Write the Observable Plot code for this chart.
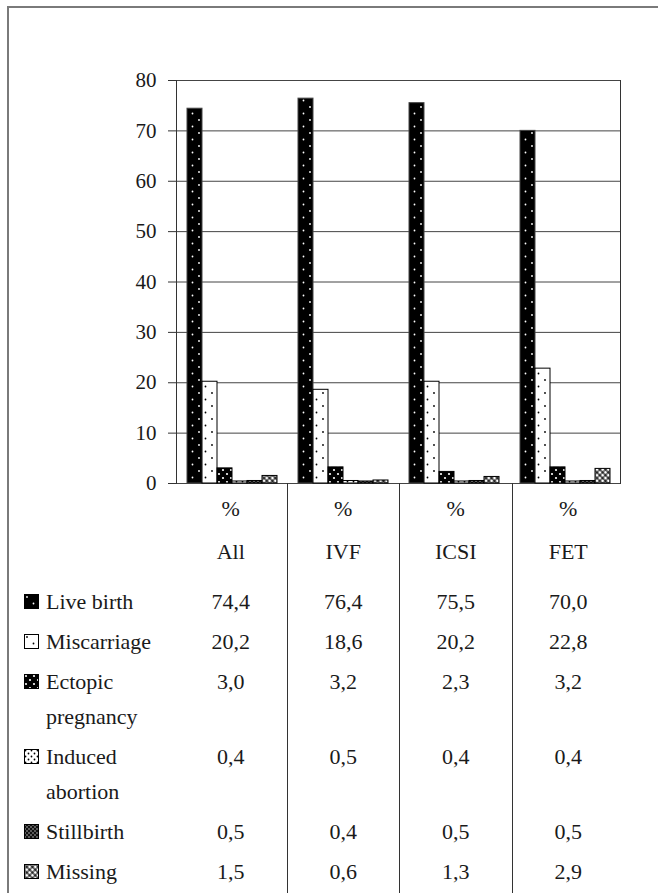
<!DOCTYPE html>
<html>
<head>
<meta charset="utf-8">
<script src="https://cdn.jsdelivr.net/npm/d3@7"></script>
<script src="https://cdn.jsdelivr.net/npm/@observablehq/plot@0.6"></script>
<style>
  html, body { margin: 0; padding: 0; background: #fff; }
  #wrap { position: relative; width: 658px; height: 893px; overflow: hidden; font-family: "Liberation Serif", "Tinos", "Times New Roman", "Times", "Noto Serif", "DejaVu Serif", "FreeSerif", "Nimbus Roman", "C059", "Georgia", serif; color: #1a1a1a; }
  #frame { position: absolute; left: 7px; top: 6px; width: 700px; height: 950px; border-top: 2px solid #7a7a7a; border-left: 2px solid #7a7a7a; }
  #chart { position: absolute; left: 0; top: 0; }
  #chart svg { overflow: visible; }
  #tbl { position: absolute; left: 0; border-collapse: collapse; font-size: 22px; }
  #tbl td { padding: 0; vertical-align: top; text-align: center; line-height: 35px; }
  #tbl td.lab { text-align: left; width: 175px; }
  #tbl td.c { width: 111.5px; }
  #tbl td.sep { border-left: 1px solid #333; }
  .labin { display: flex; align-items: flex-start; padding-left: 24px; }
  .labin svg { flex: none; margin-top: 10px; margin-right: 7px; }
</style>
</head>
<body>
<svg width="0" height="0" style="position:absolute">
  <defs>
    <pattern id="p0" patternUnits="userSpaceOnUse" width="13" height="13">
      <rect width="13" height="13" fill="#000"/>
      <circle cx="3" cy="3" r="0.9" fill="#fff"/>
      <circle cx="9.5" cy="9.5" r="0.9" fill="#fff"/>
    </pattern>
    <pattern id="p1" patternUnits="userSpaceOnUse" width="13" height="13">
      <rect width="13" height="13" fill="#fff"/>
      <circle cx="3" cy="3" r="0.9" fill="#000"/>
      <circle cx="9.5" cy="9.5" r="0.9" fill="#000"/>
    </pattern>
    <pattern id="p2" patternUnits="userSpaceOnUse" width="8" height="8">
      <rect width="8" height="8" fill="#000"/>
      <circle cx="2" cy="2" r="1.1" fill="#fff"/>
      <circle cx="6" cy="6" r="1.1" fill="#fff"/>
    </pattern>
    <pattern id="p3" patternUnits="userSpaceOnUse" width="6" height="6">
      <rect width="6" height="6" fill="#fff"/>
      <circle cx="1.5" cy="1.5" r="0.9" fill="#000"/>
      <circle cx="4.5" cy="4.5" r="0.9" fill="#000"/>
    </pattern>
    <pattern id="p4" patternUnits="userSpaceOnUse" width="4" height="4">
      <rect width="4" height="4" fill="#111"/>
      <circle cx="1" cy="1" r="0.8" fill="#bbb"/>
      <circle cx="3" cy="3" r="0.8" fill="#bbb"/>
    </pattern>
    <pattern id="p5" patternUnits="userSpaceOnUse" width="4" height="4" patternTransform="rotate(45)">
      <rect width="4" height="4" fill="#222"/>
      <circle cx="2" cy="2" r="1.6" fill="#fff"/>
    </pattern>
  </defs>
</svg>
<div id="wrap">
  <div id="frame"></div>
  <div id="chart"></div>
</div>
<script>
const categories = ["All", "IVF", "ICSI", "FET"];
const series = ["Live birth", "Miscarriage", "Ectopic pregnancy", "Induced abortion", "Stillbirth", "Missing"];
const seriesLines = [["Live birth"], ["Miscarriage"], ["Ectopic", "pregnancy"], ["Induced", "abortion"], ["Stillbirth"], ["Missing"]];
const liveBirth = [74.4, 76.4, 75.5, 70.0];
const miscarriage = [20.2, 18.6, 20.2, 22.8];
const ectopicPregnancy = [3.0, 3.2, 2.3, 3.2];
const inducedAbortion = [0.4, 0.5, 0.4, 0.4];
const stillbirth = [0.5, 0.4, 0.5, 0.5];
const missing = [1.5, 0.6, 1.3, 2.9];
const yTicks = [0, 10, 20, 30, 40, 50, 60, 70, 80];
const unitLabel = "%";

const values = [liveBirth, miscarriage, ectopicPregnancy, inducedAbortion, stillbirth, missing];
const patterns = series.map((s, i) => `url(#p${i})`);
const data = [];
series.forEach((s, i) => categories.forEach((c, j) => data.push({cat: c, series: s, value: values[i][j], si: i})));

const fmt = v => v.toFixed(1).replace(".", ",");
const fontStack = getComputedStyle(document.getElementById("wrap")).fontFamily;

const plot = Plot.plot({
  width: 658,
  height: 484,
  marginLeft: 175,
  marginRight: 37,
  marginTop: 80,
  marginBottom: 1,
  style: {fontFamily: fontStack, fontSize: "21px", color: "#1a1a1a", background: "transparent"},
  fx: {domain: categories, padding: 0, axis: null},
  x: {domain: series, paddingInner: 0, paddingOuter: 0.66, axis: null},
  y: {domain: [0, 80], axis: null},
  marks: [
    Plot.gridY(yTicks, {stroke: "#444", strokeOpacity: 1, strokeWidth: 1}),
    ...series.map((s, i) => Plot.barY(data.filter(d => d.si === i), {
      fx: "cat", x: "series", y: "value",
      fill: patterns[i], stroke: i === 0 ? "#444" : "#000", strokeWidth: 1
    })),
    Plot.axisY(yTicks, {label: null, tickSize: 8, tickPadding: 12, stroke: "#333", fill: "#1a1a1a", fontSize: 21}),
    Plot.frame({anchor: "left", facetAnchor: "left", stroke: "#333"}),
    Plot.frame({anchor: "right", facetAnchor: "right", stroke: "#333"})
  ]
});
document.getElementById("chart").appendChild(plot);

// Table below the chart
const baseline = plot.scale("y").apply(0);
const tbl = document.createElement("table");
tbl.id = "tbl";
tbl.style.top = baseline + "px";

function addRow(labelHTML, cells, height, padTop) {
  const tr = document.createElement("tr");
  const td0 = document.createElement("td");
  td0.className = "lab";
  td0.style.height = height + "px";
  td0.style.paddingTop = padTop + "px";
  td0.innerHTML = labelHTML;
  tr.appendChild(td0);
  cells.forEach((t, j) => {
    const td = document.createElement("td");
    td.className = "c" + (j > 0 ? " sep" : "");
    td.style.height = height + "px";
    td.style.paddingTop = padTop + "px";
    td.textContent = t;
    tr.appendChild(td);
  });
  tbl.appendChild(tr);
}

addRow("", categories.map(() => unitLabel), 37, 8);
addRow("", categories, 47, 6);
series.forEach((s, i) => {
  const lines = seriesLines[i];
  const sw = `<svg width="15" height="15"><rect x="0.5" y="0.5" width="14" height="14" fill="${patterns[i]}" stroke="#000"/></svg>`;
  const lab = `<div class="labin">${sw}<div>${lines.join("<br>")}</div></div>`;
  const h = 40 + (lines.length - 1) * 35 - 2.5;
  addRow(lab, values[i].map(fmt), i === series.length - 1 ? h + 14 : h, 2.5);
});
document.getElementById("wrap").appendChild(tbl);
</script>
</body>
</html>
